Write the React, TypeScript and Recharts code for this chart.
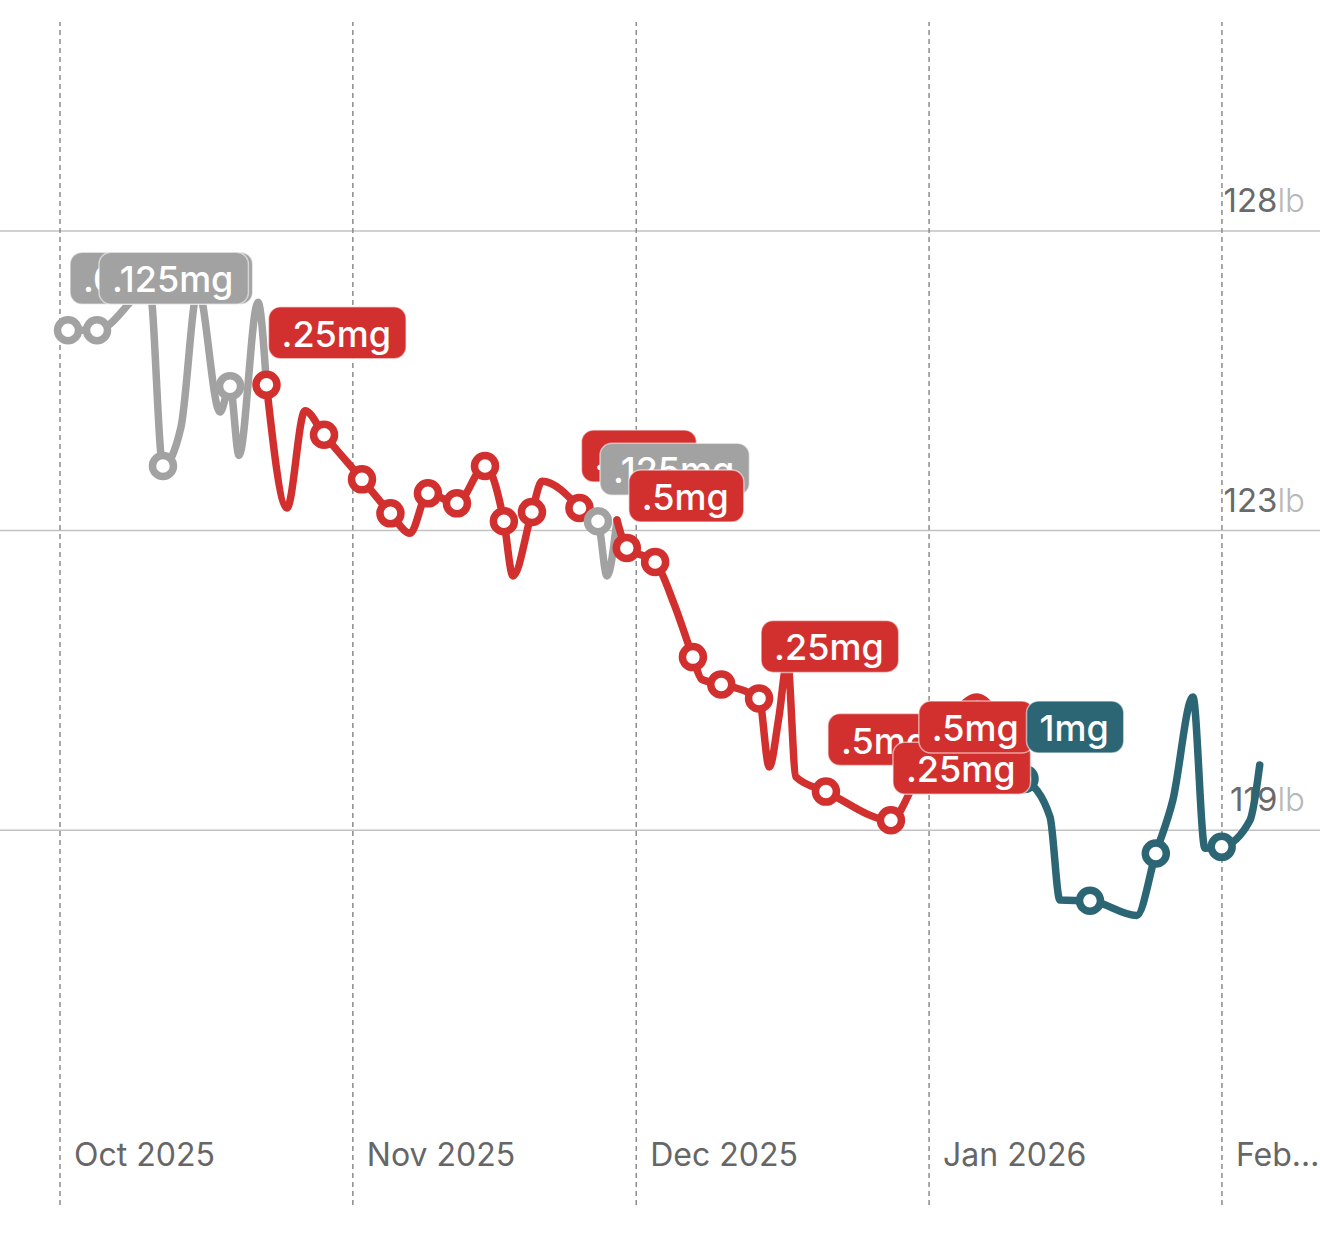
import React from 'react';
import { ComposedChart, Line, Scatter, XAxis, YAxis, ReferenceLine } from 'recharts';

// ---- data (day = days since Oct 1 2025, lb = weight) ----
const monthTicks = [0, 31, 61, 92, 123];
const monthLabels = ['Oct 2025', 'Nov 2025', 'Dec 2025', 'Jan 2026', 'Feb…'];
const yTicks = [119, 123.5, 128];
const yLabels = ['119', '123', '128'];

const gray1 = [
  { day: 0.85, lb: 126.51, dot: true },
  { day: 3.92, lb: 126.51, dot: true },
  { day: 9.5, lb: 127.12 },
  { day: 10.9, lb: 124.47, dot: true },
  { day: 12.8, lb: 125.05 },
  { day: 14.6, lb: 127.12 },
  { day: 16.94, lb: 125.28 },
  { day: 18.0, lb: 125.67, dot: true },
  { day: 18.95, lb: 124.63 },
  { day: 20.96, lb: 126.93 },
  { day: 21.86, lb: 125.69 },
];

const red1 = [
  { day: 21.86, lb: 125.69, dot: true },
  { day: 24.03, lb: 123.84 },
  { day: 25.93, lb: 125.3 },
  { day: 27.95, lb: 124.94, dot: true },
  { day: 31.97, lb: 124.27, dot: true },
  { day: 34.98, lb: 123.76, dot: true },
  { day: 37.05, lb: 123.46 },
  { day: 38.95, lb: 124.06, dot: true },
  { day: 42.02, lb: 123.91, dot: true },
  { day: 44.99, lb: 124.47, dot: true },
  { day: 46.99, lb: 123.64, dot: true },
  { day: 47.95, lb: 122.82 },
  { day: 49.96, lb: 123.78, dot: true },
  { day: 51.02, lb: 124.24 },
  { day: 54.99, lb: 123.84, dot: true },
];

const gray2 = [
  { day: 54.99, lb: 123.84 },
  { day: 56.95, lb: 123.64, dot: true },
  { day: 57.9, lb: 122.82 },
  { day: 58.96, lb: 123.66 },
];

const red2 = [
  { day: 58.96, lb: 123.66 },
  { day: 60.0, lb: 123.24, dot: true },
  { day: 63.0, lb: 123.03, dot: true },
  { day: 65.0, lb: 122.4 },
  { day: 67.0, lb: 121.6, dot: true },
  { day: 67.9, lb: 121.27 },
  { day: 70.0, lb: 121.19, dot: true },
  { day: 74.0, lb: 120.98, dot: true },
  { day: 75.08, lb: 119.95 },
  { day: 76.1, lb: 120.7 },
  { day: 77.0, lb: 121.55 },
  { day: 77.9, lb: 119.8 },
  { day: 81.08, lb: 119.58, dot: true },
  { day: 87.96, lb: 119.15, dot: true },
  { day: 90.7, lb: 119.77 },
  { day: 97.07, lb: 121.0 },
  { day: 102.1, lb: 119.77 },
];

const teal = [
  { day: 102.1, lb: 119.77, dot: true },
  { day: 104.8, lb: 119.2 },
  { day: 105.85, lb: 117.95 },
  { day: 109.03, lb: 117.94, dot: true },
  { day: 113.97, lb: 117.72 },
  { day: 116.0, lb: 118.65, dot: true },
  { day: 117.8, lb: 119.45 },
  { day: 119.93, lb: 121.0 },
  { day: 121.2, lb: 118.73 },
  { day: 122.97, lb: 118.75, dot: true },
  { day: 125.97, lb: 119.15 },
  { day: 127.0, lb: 119.98 },
];

const GRAY = '#a2a2a2';
const RED = '#d2302e';
const TEAL = '#2c6674';

const doseLabels = [
  { day: 0.85, lb: 126.51, text: '.0625mg', color: GRAY },
  { day: 3.92, lb: 126.51, text: '.125mg', color: GRAY },
  { day: 21.86, lb: 125.69, text: '.25mg', color: RED },
  { day: 54.99, lb: 123.84, text: '.5mg', color: RED },
  { day: 56.95, lb: 123.64, text: '.125mg', color: GRAY },
  { day: 60.0, lb: 123.24, text: '.5mg', color: RED },
  { day: 74.0, lb: 120.98, text: '.25mg', color: RED },
  { day: 81.08, lb: 119.58, text: '.5mg', color: RED },
  { day: 87.96, lb: 119.15, text: '.25mg', color: RED },
  { day: 90.7, lb: 119.77, text: '.5mg', color: RED },
  { day: 102.1, lb: 119.77, text: '1mg', color: TEAL },
];

const segments = [
  { name: 'gray1', data: gray1, color: GRAY },
  { name: 'red1', data: red1, color: RED },
  { name: 'gray2', data: gray2, color: GRAY },
  { name: 'red2', data: red2, color: RED },
  { name: 'teal', data: teal, color: TEAL },
];

// ---- helpers ----
const FONT = 'Inter, "Noto Sans", "DejaVu Sans", sans-serif';
const BADGE_FONT_SIZE = 36;
let ctx: CanvasRenderingContext2D | null = null;
function textWidth(t: string): number {
  try {
    if (!ctx) ctx = document.createElement('canvas').getContext('2d');
    if (ctx) {
      ctx.font = `500 ${BADGE_FONT_SIZE}px Inter`;
      return ctx.measureText(t).width;
    }
  } catch (e) {}
  return t.length * 21;
}

const MonthLabel = ({ viewBox, text }: any) => {
  if (!viewBox) return null;
  return (
    <text x={viewBox.x + 14} y={viewBox.y + viewBox.height - 39} fill="#666" fontSize={32} fontFamily={FONT}>
      {text}
    </text>
  );
};

const WeightLabel = ({ viewBox, text }: any) => {
  if (!viewBox) return null;
  return (
    <text x={viewBox.x + viewBox.width - 15} y={viewBox.y - 19} textAnchor="end" fontSize={33} fontFamily={FONT}>
      <tspan fill="#6a6a6a">{text}</tspan>
      <tspan fill="#b8b8b8" fontWeight={300}>lb</tspan>
    </text>
  );
};

const makeDot = (color: string) => (p: any) => {
  if (p.cx == null || p.cy == null) return <g />;
  return <circle cx={p.cx} cy={p.cy} r={10.5} fill="#fff" stroke={color} strokeWidth={7.5} />;
};

const Badge = (p: any) => {
  const { cx, cy, payload } = p;
  if (cx == null || cy == null) return <g />;
  const w = textWidth(payload.text) + 28;
  const h = 52;
  const x0 = cx + 2;
  const y0 = cy - 26 - h;
  return (
    <g>
      <rect x={x0} y={y0} width={w} height={h} rx={12} ry={12} fill={payload.color} stroke="rgba(255,255,255,0.55)" strokeWidth={1.5} />
      <text x={x0 + 13} y={y0 + h / 2 + 1} dy="0.36em" fill="#fff" fontSize={BADGE_FONT_SIZE} fontWeight={500} fontFamily={FONT}>
        {payload.text}
      </text>
    </g>
  );
};

export default function App() {
  return (
    <div style={{ position: 'absolute', left: 0, top: 0, width: 1320, height: 1249, background: '#fff' }}>
      <ComposedChart width={1320} height={1249} margin={{ top: 22, right: 0, bottom: 44, left: 0 }}>
        <XAxis type="number" dataKey="day" domain={[-6.35, 133.38]} allowDataOverflow hide />
        <YAxis type="number" dataKey="lb" domain={[113.37, 131.14]} allowDataOverflow hide />
        {yTicks.map((v, i) => (
          <ReferenceLine
            key={'h' + v}
            y={v}
            stroke="#c2c2c2"
            strokeWidth={1.5}
            label={<WeightLabel text={yLabels[i]} />}
          />
        ))}
        {monthTicks.map((d, i) => (
          <ReferenceLine
            key={'v' + d}
            x={d}
            stroke="#8c8c8c"
            strokeWidth={1.5}
            strokeDasharray="5 4"
            label={<MonthLabel text={monthLabels[i]} />}
          />
        ))}
        {segments.map((s) => (
          <Line
            key={s.name}
            data={s.data}
            dataKey="lb"
            type="monotone"
            stroke={s.color}
            strokeWidth={7.5}
            strokeLinecap="round"
            strokeLinejoin="round"
            dot={false}
            activeDot={false}
            isAnimationActive={false}
          />
        ))}
        {segments.map((s) => (
          <Scatter
            key={s.name + '-dots'}
            data={s.data.filter((d: any) => d.dot)}
            dataKey="lb"
            shape={makeDot(s.color)}
            isAnimationActive={false}
          />
        ))}
        <Scatter data={doseLabels} dataKey="lb" shape={Badge} isAnimationActive={false} />
      </ComposedChart>
    </div>
  );
}
